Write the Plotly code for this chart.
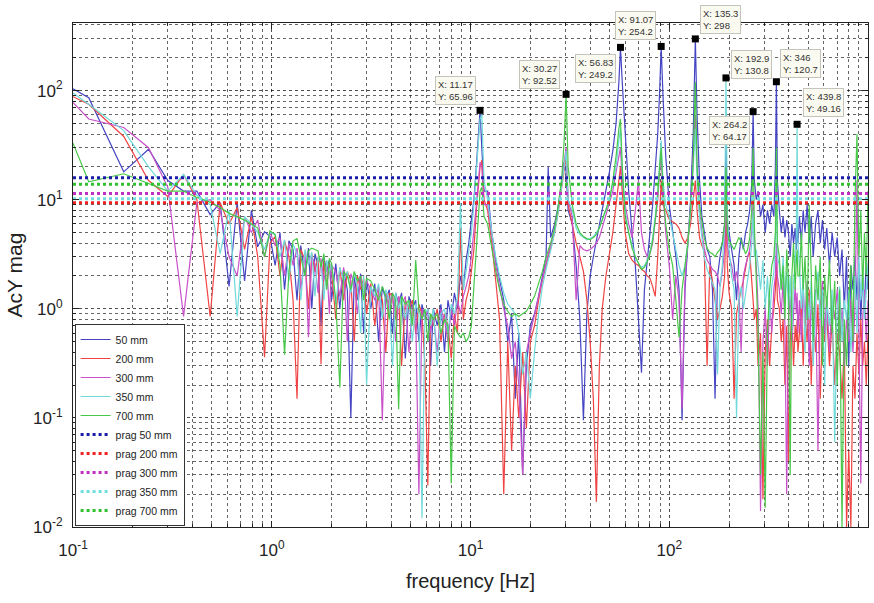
import math
import plotly.graph_objects as go

# ---------------- data ----------------
FREQ = [
    0.10, 0.12, 0.18, 0.24, 0.30, 0.36, 0.42, 0.49, 0.55, 0.61, 0.67, 0.73, 0.79, 0.85, 0.92, 0.98,
    1.04, 1.10, 1.16, 1.22, 1.28, 1.34, 1.40, 1.47, 1.53, 1.59, 1.65, 1.71, 1.77, 1.83, 1.89, 1.95,
    2.0, 2.1, 2.2, 2.3, 2.4, 2.5, 2.6, 2.7, 2.8, 2.9, 3.0,
    3.15, 3.3, 3.45, 3.6, 3.75, 3.9, 4.05, 4.2, 4.35, 4.5, 4.7, 4.9, 5.1, 5.3, 5.5, 5.7, 5.9, 6.1,
    6.3, 6.5, 6.8, 7.1, 7.4, 7.7, 8.0, 8.3, 8.6, 8.9, 9.2, 9.5, 9.8, 10.1, 10.4, 10.7, 11.0, 11.17,
    11.4, 11.7,
    12.2, 12.8, 13.4, 14.0, 14.7, 15.4, 16.1, 16.8, 17.5, 18.3, 19.1, 20.0, 21.0, 22.0, 23.0, 24.0,
    24.6, 25.3, 26.5, 27.7, 28.8, 29.6, 30.27, 31.0,
    32.5, 34, 35.5, 37, 38.5, 40, 41.5, 43, 44.5, 46, 48, 50, 52, 54, 55.8, 56.83, 58, 60,
    62.5, 65, 67.5, 70, 72.5, 75, 77.5, 80, 82.5, 85, 87.5, 89.5, 91.07, 93,
    96, 100, 104, 108, 112, 116, 120, 124, 128, 132, 135.3, 138,
    142, 146, 150, 155, 160, 165, 170, 175, 180, 185, 190, 192.9, 196,
    200, 206, 212, 218, 224, 230, 236, 242, 248, 254, 260, 264.2, 268,
    274, 280, 288, 296, 304, 312, 320, 328, 336, 342, 346, 350,
    358, 366, 374, 382, 390, 398, 406, 414, 422, 430, 436, 439.8, 444,
    452, 462, 472, 482, 494, 506, 518, 530, 545, 560, 575, 590, 605, 620, 640, 660, 680, 700,
    720, 740, 760, 780, 800, 820, 840, 860, 880, 900, 920, 940, 960, 980, 1000,
]

MAG_50 = [
    104, 86, 18, 29, 15, 12, 12, 7.3, 9.4, 1.6, 9.4, 1.8, 8, 3.7, 5.1, 4.6,
    2.5, 5.0, 1.5, 4.2, 3.5, 1.2, 3.8, 2.0, 3.6, 1.0, 3.2, 2.5, 0.7, 3.0, 2.2, 2.8,
    1.2, 2.6, 1.0, 2.3, 1.5, 0.10, 2.0, 1.2, 2.1, 0.6, 1.9,
    1.0, 1.7, 0.5, 1.6, 1.2, 1.5, 0.6, 1.4, 1.1, 1.4, 0.35, 1.3, 1.0, 1.2, 0.5, 1.1, 0.8, 1.0,
    0.3, 1.0, 0.7, 1.1, 0.4, 1.2, 0.8, 1.4, 1.0, 2.0, 1.5, 2.8, 4.0, 6.5, 10, 20, 40, 65.96,
    30, 12,
    12, 5, 2.8, 1.8, 1.2, 0.5, 0.9, 0.15, 0.6, 0.03, 0.3, 0.7, 0.9, 1.3, 2.0, 3.0,
    20, 4.5, 6, 9, 15, 22, 18, 8,
    6, 2.5, 0.8, 0.095, 0.9, 2.0, 3.0, 4.2, 6, 8, 12, 18, 28, 50, 120, 249.2, 120, 40,
    12, 5, 2.5, 0.8, 0.26, 1.5, 3, 5, 9, 18, 40, 100, 254.2, 90,
    25, 9, 5, 3, 1.5, 0.095, 1.5, 4, 10, 40, 298, 60,
    15, 7, 5, 3.5, 3.0, 1.5, 0.15, 2.0, 3.0, 4.0, 6, 40, 6,
    5, 3.5, 2.5, 1.2, 3.0, 4.5, 3.5, 5, 6, 8, 14, 64.17, 15,
    10, 12, 7, 9, 5, 8, 6, 9, 7, 20, 120.7, 15,
    8, 5, 7, 4.5, 6.5, 5, 3.0, 6, 4, 5.5, 3.5, 6, 4,
    7, 4, 8, 5, 9, 4, 7, 3, 6, 8, 4, 6.5, 3.5, 5.5, 2.5, 5, 3.0, 4.5,
    2.0, 3.5, 1.0, 3.0, 0.3, 2.5, 1.5, 3.0, 1.2, 2.5, 0.8, 2.0, 1.0, 3.0, 1.5,
]

MAG_200 = [
    88, 75, 38, 15, 10.7, 17, 10, 0.85, 9.4, 6, 8.5, 3.5, 7, 3, 0.36, 4,
    4.6, 2.0, 4.2, 3.0, 1.2, 0.15, 3.5, 2.8, 1.0, 3.2, 2.2, 3.0, 0.31, 2.8, 1.6, 2.6,
    2.2, 0.8, 2.4, 1.2, 2.2, 1.8, 0.5, 2.0, 1.5, 1.9, 0.9,
    1.7, 0.7, 1.5, 1.2, 0.4, 1.4, 1.3, 0.8, 1.3, 0.3, 1.2, 1.0, 1.2, 0.6, 1.1, 0.9, 0.3, 0.024,
    0.9, 0.7, 1.0, 0.5, 0.9, 0.7, 0.35, 0.9, 0.6, 5.5, 0.8, 1.2, 1.5, 2.2, 3.5, 8, 15, 20,
    23, 10,
    8, 4, 1.8, 0.8, 0.02, 0.5, 0.05, 0.3, 0.1, 0.4, 0.08, 0.5, 0.7, 1.2, 1.8, 2.6,
    3.0, 3.6, 5, 8, 13, 20, 25, 9,
    6, 4, 3, 2.2, 1.2, 0.5, 0.15, 0.017, 0.3, 1.0, 2.0, 3.2, 5, 9, 15, 20, 12, 5,
    3.2, 2.8, 2.6, 2.5, 2.3, 2.2, 2.0, 1.9, 1.6, 1.3, 3, 8, 15, 9,
    8, 6.6, 6.3, 6.0, 5.5, 4.5, 4.0, 4.5, 6, 10, 15, 8,
    4.5, 3.8, 3.4, 0.3, 2.5, 1.8, 1.2, 0.8, 1.0, 1.3, 2.0, 8, 2.5,
    1.4, 1.0, 0.15, 0.9, 1.2, 1.5, 1.8, 2.3, 3.0, 3.3, 2.0, 1.2, 0.8,
    1.0, 0.3, 0.6, 0.018, 0.4, 0.8, 0.3, 0.7, 1.0, 1.5, 3, 1.2,
    1.0, 0.5, 0.8, 0.2, 0.7, 0.04, 0.5, 0.9, 0.3, 0.7, 0.5, 0.8, 0.4,
    0.6, 1.2, 0.3, 0.9, 0.5, 1.5, 0.2, 0.8, 0.4, 1.1, 0.15, 0.7, 0.5, 0.9, 0.3, 0.8, 0.2, 0.6,
    0.4, 0.15, 0.5, 0.01, 0.05, 0.01, 0.3, 0.15, 0.6, 0.25, 0.8, 0.3, 0.5, 0.2, 0.6,
]

MAG_300 = [
    78, 55, 46, 30, 13, 0.85, 9.4, 10, 8, 3, 2.0, 7, 5, 6.5, 3, 5,
    3.8, 4.5, 2.0, 4.0, 2.5, 3.6, 1.5, 3.3, 0.55, 3.0, 2.6, 1.4, 2.9, 1.8, 2.6, 0.9,
    2.5, 2.2, 1.3, 2.4, 0.5, 2.1, 1.7, 0.9, 2.0, 1.4, 1.8,
    1.5, 1.2, 1.6, 0.095, 1.4, 1.0, 1.4, 0.5, 1.3, 1.1, 1.3, 0.4, 1.1, 0.9, 0.02, 1.0, 0.8, 1.0,
    0.6, 0.9, 0.4, 1.0, 0.8, 0.5, 1.0, 0.7, 1.2, 0.9, 1.3, 1.6, 2.0, 3.0, 5, 9, 16, 22,
    20, 9,
    9, 4.5, 2.5, 1.6, 1.0, 0.7, 0.35, 0.5, 0.2, 0.03, 0.4, 0.6, 0.9, 1.3, 1.9, 2.8,
    3.2, 3.8, 5.5, 8.5, 14, 22, 30, 10,
    7, 1.2, 3.8, 3.5, 3.4, 3.5, 3.7, 4.0, 4.5, 5.5, 7, 9, 12, 18, 25, 30, 15, 9,
    6, 4.5, 8, 15, 5, 3.5, 3.0, 3.2, 4, 6, 10, 18, 25, 12,
    5, 2.5, 0.8, 2.0, 1.2, 0.12, 1.8, 4, 8, 25, 60, 20,
    8, 5, 3.6, 2.8, 2.5, 2.3, 2.2, 2.0, 1.6, 2.2, 3.5, 15, 4,
    3, 2.5, 1.8, 2.2, 1.5, 0.4, 2.0, 2.5, 3.0, 3.5, 5, 10, 4,
    2.5, 1.0, 0.014, 0.5, 1.0, 0.3, 1.2, 0.6, 1.5, 2.0, 4, 2,
    1.5, 0.9, 1.8, 0.7, 0.02, 0.8, 1.3, 0.5, 1.0, 1.6, 0.9, 1.4, 0.6,
    1.2, 0.5, 1.5, 0.8, 1.8, 0.3, 1.2, 0.7, 1.5, 0.05, 1.0, 1.8, 0.6, 1.3, 0.4, 1.2, 0.8, 1.5,
    0.5, 1.0, 0.3, 0.8, 0.5, 1.2, 0.4, 1.0, 15, 0.6, 0.025, 0.8, 1.5, 0.5, 1.2,
]

MAG_350 = [
    95, 75, 43, 20, 12, 17, 11, 9, 3.2, 8, 0.85, 7, 6, 5, 3.5, 5,
    4.8, 3.0, 4.3, 1.8, 3.9, 3.2, 1.2, 3.5, 2.5, 3.3, 1.3, 3.0, 2.6, 1.2, 2.8, 2.2,
    2.6, 1.1, 2.4, 1.8, 2.2, 1.4, 2.1, 1.6, 0.6, 2.0, 0.2,
    1.6, 1.3, 1.7, 0.8, 1.5, 1.2, 0.3, 1.4, 1.0, 1.3, 0.8, 1.2, 0.5, 1.1, 0.9, 0.012, 0.9, 1.0,
    0.7, 1.0, 0.3, 0.9, 1.0, 0.6, 1.1, 0.9, 1.3, 9.4, 1.5, 2.2, 3.2, 5.0, 9, 18, 35, 55,
    60, 15,
    10, 5, 3, 2, 1.4, 1.1, 1.0, 0.9, 0.6, 0.25, 0.4, 0.15, 0.4, 0.9, 1.6, 2.4,
    2.8, 3.4, 5, 8, 13, 20, 28, 10,
    8, 5.5, 4.8, 4.5, 4.3, 4.4, 4.6, 5, 5.5, 6.5, 8, 10, 14, 20, 35, 45, 20, 8,
    5, 3.8, 3.0, 2.6, 2.4, 2.5, 2.8, 3.3, 4.5, 7, 12, 22, 35, 15,
    9, 7, 5, 3.5, 2.5, 2.0, 2.5, 4, 8, 20, 45, 15,
    7, 4.5, 3.0, 2.3, 2.0, 1.7, 1.5, 0.25, 1.6, 2.5, 6, 130.8, 8,
    3.5, 2.0, 1.5, 0.1, 1.2, 1.6, 1.0, 1.4, 2.0, 2.5, 4, 8, 3,
    3.5, 2.5, 1.5, 2.8, 1.0, 2.0, 0.8, 1.6, 2.2, 4.5, 15, 3,
    2.5, 1.5, 3.0, 1.2, 2.2, 1.0, 2.0, 0.6, 1.8, 2.5, 5, 49.16, 4,
    2.5, 1.0, 2.0, 0.4, 1.5, 0.8, 1.8, 0.3, 1.3, 2.2, 0.8, 1.5, 0.2, 1.2, 0.7, 1.5, 0.06, 1.0,
    1.6, 0.5, 1.2, 0.8, 1.5, 0.4, 1.0, 2.0, 0.6, 3.0, 1.2, 2.2, 0.8, 1.5, 2.5,
]

MAG_700 = [
    33, 14.6, 17.3, 14, 12, 12, 10.5, 9.5, 8.5, 7.5, 7, 6.5, 6, 5.5, 3, 5.2,
    4.8, 2.5, 0.38, 2.2, 4.2, 4.4, 3.0, 2.0, 3.4, 3.6, 3.5, 3.4, 2.4, 3.2, 1.5, 2.9,
    2.6, 1.2, 0.19, 2.2, 2.0, 1.5, 2.2, 1.8, 2.0, 1.2, 1.9,
    1.8, 1.5, 1.2, 1.6, 1.3, 0.8, 1.4, 1.2, 0.12, 1.3, 1.1, 1.2, 0.7, 2.8, 1.0, 0.8, 1.0, 0.5,
    0.9, 0.8, 0.9, 0.6, 0.8, 0.7, 0.025, 0.7, 0.6, 0.55, 0.6, 0.5, 0.55, 0.7, 1.5, 3.5, 8, 12,
    13, 7,
    6, 3.5, 2.2, 1.5, 1.1, 0.95, 0.85, 0.9, 0.85, 0.9, 0.95, 1.1, 1.3, 1.7, 2.2, 3.0,
    3.4, 4.0, 5.5, 9, 16, 35, 92.52, 20,
    9, 6, 5, 4.6, 4.4, 4.3, 4.5, 4.8, 5.5, 6.5, 8, 10, 15, 25, 45, 55, 20, 7,
    5, 3.6, 3.0, 2.6, 2.3, 2.4, 2.7, 3.2, 4.2, 6.5, 11, 20, 30, 12,
    6, 3.5, 2.5, 1.2, 0.55, 1.5, 2.5, 4, 8, 22, 120, 20,
    9, 6, 4.5, 3.6, 3.3, 3.2, 3.0, 3.3, 3.5, 4, 6, 20, 5,
    4.2, 3.8, 3.5, 4.0, 4.5, 4.2, 3.6, 3.2, 3.5, 4.5, 8, 30, 6,
    2.0, 0.6, 0.03, 0.4, 0.015, 0.6, 1.5, 2.5, 3, 5, 30, 4,
    3.0, 1.5, 2.5, 0.8, 3.5, 1.8, 0.03, 2.0, 4, 1.5, 2.8, 3.5, 2,
    2.0, 5, 1.5, 3.0, 0.8, 9, 2.0, 0.5, 2.5, 1.2, 3.0, 0.3, 2.0, 1.0, 2.8, 0.6, 1.8, 0.2,
    1.5, 0.01, 0.8, 0.3, 1.2, 2.5, 0.5, 10, 40, 3.0, 8, 1.5, 5, 2.0, 12,
]

SERIES_NAMES = ["50 mm", "200 mm", "300 mm", "350 mm", "700 mm"]
SERIES_COLORS = ["#4545c4", "#f04444", "#c850c8", "#70dada", "#48c848"]

PRAG_NAMES = ["prag 50 mm", "prag 200 mm", "prag 300 mm", "prag 350 mm", "prag 700 mm"]
PRAG_VALUES = [15.9, 9.4, 11.4, 10.2, 13.9]
PRAG_COLORS = ["#1c1ca8", "#ee2020", "#c030c0", "#70dede", "#30c030"]
PRAG_X = [0.1, 1000]

DT_X = [11.17, 30.27, 56.83, 91.07, 135.3, 192.9, 264.2, 346, 439.8]
DT_Y = [65.96, 92.52, 249.2, 254.2, 298, 130.8, 64.17, 120.7, 49.16]
DT_LABEL_X = ["11.17", "30.27", "56.83", "91.07", "135.3", "192.9", "264.2", "346", "439.8"]
DT_LABEL_Y = ["65.96", "92.52", "249.2", "254.2", "298", "130.8", "64.17", "120.7", "49.16"]
# pixel offsets of the datatip boxes relative to their points
DT_SHIFT_X = [-25, -27, -25, -26, 25, 26, -24, 24, 26]
DT_SHIFT_Y = [20, 20, -21, 21, 19, 13, -19, 18, 22]

X_TICKS = [0.1, 1, 10, 100, 1000]
X_TICKTEXT = ["10<sup>-1</sup>", "10<sup>0</sup>", "10<sup>1</sup>", "10<sup>2</sup>", "10<sup>3</sup>"]
Y_TICKS = [0.01, 0.1, 1, 10, 100]
Y_TICKTEXT = ["10<sup>-2</sup>", "10<sup>-1</sup>", "10<sup>0</sup>", "10<sup>1</sup>", "10<sup>2</sup>"]

n = len(FREQ)
for arr in (MAG_50, MAG_200, MAG_300, MAG_350, MAG_700):
    if len(arr) != n:
        raise SystemExit("length mismatch %d vs %d" % (len(arr), n))

FONT = "Liberation Sans, Arial, sans-serif"

# ---------------- figure ----------------
fig = go.Figure()
for name, mags, col in zip(SERIES_NAMES, [MAG_50, MAG_200, MAG_300, MAG_350, MAG_700], SERIES_COLORS):
    fig.add_trace(go.Scatter(x=FREQ, y=mags, mode="lines", name=name,
                             line=dict(color=col, width=1.2)))
for name, v, col in zip(PRAG_NAMES, PRAG_VALUES, PRAG_COLORS):
    fig.add_trace(go.Scatter(x=PRAG_X, y=[v, v], mode="lines", name=name,
                             line=dict(color=col, width=3, dash="dot")))
fig.add_trace(go.Scatter(x=DT_X, y=DT_Y, mode="markers", showlegend=False,
                         marker=dict(symbol="square", size=7, color="black")))

# annotations on log axes take log10 positions
for xv, yv, lx, ly, sx, sy in zip(DT_X, DT_Y, DT_LABEL_X, DT_LABEL_Y, DT_SHIFT_X, DT_SHIFT_Y):
    fig.add_annotation(x=math.log10(xv), y=math.log10(yv), xref="x", yref="y", showarrow=False,
                       text="X: %s<br>Y: %s" % (lx, ly), align="left",
                       xshift=sx, yshift=sy,
                       font=dict(family=FONT, size=9.5, color="#333333"),
                       bgcolor="#fbfaf0", bordercolor="#c4c4bc", borderwidth=1, borderpad=2)

minor_x = [m * 10.0 ** e for e in range(-1, 3) for m in range(2, 10)]
minor_y = [m * 10.0 ** e for e in range(-2, 3) for m in range(2, 10)]
grid = dict(showgrid=True, gridcolor="rgba(0,0,0,0.7)", gridwidth=1, griddash="dot")

fig.update_xaxes(type="log", range=[-1, 3], tickmode="array", tickvals=X_TICKS, ticktext=X_TICKTEXT,
                 ticks="inside", ticklen=6, tickcolor="#222", showline=True, linecolor="#222",
                 linewidth=1, mirror="allticks", zeroline=False, ticklabelstandoff=8,
                 tickfont=dict(family=FONT, size=17, color="#222"),
                 title=dict(text="frequency [Hz]", font=dict(family=FONT, size=20, color="#222"),
                            standoff=14),
                 minor=dict(tickmode="array", tickvals=minor_x, ticks="inside", ticklen=3, tickcolor="#222",
                            showgrid=True, gridcolor="rgba(0,0,0,0.6)", griddash="dot"),
                 **grid)
fig.update_yaxes(type="log", range=[-2, 2.62], tickmode="array", tickvals=Y_TICKS, ticktext=Y_TICKTEXT,
                 ticks="inside", ticklen=6, tickcolor="#222", showline=True, linecolor="#222",
                 linewidth=1, mirror="allticks", zeroline=False, ticklabelstandoff=6,
                 tickfont=dict(family=FONT, size=17, color="#222"),
                 title=dict(text="AcY mag", font=dict(family=FONT, size=21, color="#222"),
                            standoff=4),
                 minor=dict(tickmode="array", tickvals=minor_y, ticks="inside", ticklen=3, tickcolor="#222",
                            showgrid=True, gridcolor="rgba(0,0,0,0.6)", griddash="dot"),
                 **grid)

fig.update_layout(
    width=874, height=603,
    margin=dict(l=73, r=6, t=23, b=76, autoexpand=False),
    paper_bgcolor="white", plot_bgcolor="white",
    font=dict(family=FONT, color="#222"),
    legend=dict(x=0.002, y=0.002, xanchor="left", yanchor="bottom",
                bgcolor="white", bordercolor="#333", borderwidth=1,
                font=dict(family=FONT, size=10.5, color="#222"),
                tracegroupgap=0, itemwidth=30),
)

fig.write_html("out.html")
